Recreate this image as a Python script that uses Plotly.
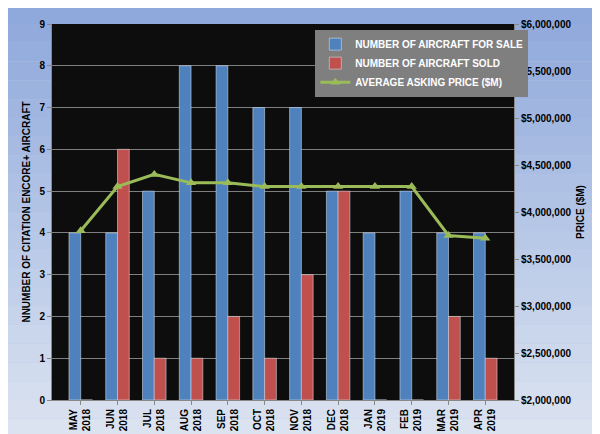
import plotly.graph_objects as go

months = ["MAY<br>2018","JUN<br>2018","JUL<br>2018","AUG<br>2018","SEP<br>2018","OCT<br>2018",
          "NOV<br>2018","DEC<br>2018","JAN<br>2019","FEB<br>2019","MAR<br>2019","APR<br>2019"]
for_sale = [4,4,5,8,8,7,7,5,4,5,4,4]
sold = [0,6,1,1,2,1,3,5,0,0,2,1]
price = [3800000,4270000,4400000,4310000,4310000,4270000,4270000,4270000,4270000,4270000,3750000,3720000]

fig = go.Figure()
fig.add_bar(x=months, y=for_sale, name="NUMBER OF AIRCRAFT FOR SALE", marker_color="#4f81bd")
fig.add_bar(x=months, y=sold, name="NUMBER OF AIRCRAFT SOLD", marker_color="#c0504d")
fig.add_scatter(x=months, y=price, name="AVERAGE ASKING PRICE ($M)", yaxis="y2",
                mode="lines+markers", line=dict(color="#9bbb59", width=3),
                marker=dict(symbol="triangle-up", size=9, color="#9bbb59"))

shapes = []
n = 24
top = (143, 169, 220); bot = (223, 230, 242)
for i in range(n):
    t = i / (n - 1)
    c = tuple(int(top[k] + (bot[k] - top[k]) * t) for k in range(3))
    shapes.append(dict(type="rect", xref="paper", yref="paper", x0=-0.2, x1=1.3,
                       y0=1.05 - (i + 1) * 1.2 / n, y1=1.05 - i * 1.2 / n,
                       fillcolor="rgb(%d,%d,%d)" % c, line_width=0, layer="below"))
shapes.append(dict(type="rect", xref="paper", yref="paper", x0=0, x1=1, y0=0, y1=1,
                   fillcolor="#0d0d0d", line_width=0, layer="below"))

fig.update_layout(
    width=600, height=434, margin=dict(l=44, r=94, t=10, b=32),
    paper_bgcolor="#b8c8e6", plot_bgcolor="rgba(0,0,0,0)", shapes=shapes,
    barmode="group", bargap=0.36, bargroupgap=0,
    font=dict(family="Liberation Sans", size=10, color="black"),
    xaxis=dict(tickangle=-90, tickfont=dict(size=10, weight="bold"),
               ticks="outside", tickcolor="#888", ticklen=4, showgrid=False, linecolor="#888"),
    yaxis=dict(range=[0, 9], dtick=1, gridcolor="#7f7f7f", tickfont=dict(weight="bold"),
               title=dict(text="<b>NNUMBER OF CITATION ENCORE+ AIRCRAFT</b>", font=dict(size=10), standoff=6),
               ticks="outside", tickcolor="#888", ticklen=4, zeroline=False, linecolor="#888"),
    yaxis2=dict(range=[2000000, 6000000], dtick=500000, overlaying="y", side="right",
                tickformat="$,.0f", showgrid=False, ticks="outside", tickcolor="#888", ticklen=4,
                tickfont=dict(weight="bold"), linecolor="#888",
                title=dict(text="<b>PRICE ($M)</b>", font=dict(size=10), standoff=6)),
    legend=dict(x=0.57, y=0.985, xanchor="left", yanchor="top", bgcolor="#7f7f7f",
                font=dict(color="white", size=10, weight="bold"), tracegroupgap=0),
)
fig.write_html("out.html")
